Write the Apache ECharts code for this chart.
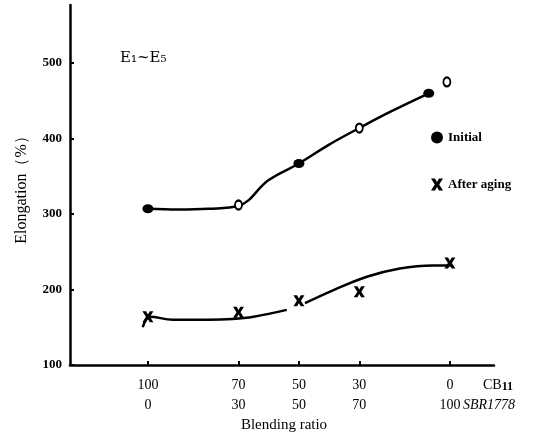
<!DOCTYPE html>
<html>
<head>
<meta charset="utf-8">
<script src="https://cdn.jsdelivr.net/npm/echarts@6/dist/echarts.min.js"></script>
<style>
  html, body { margin: 0; padding: 0; background: #fff; }
  #myChart { width: 553px; height: 437px; }
</style>
</head>
<body>
<div id="myChart"></div>
<script>
// tick values (CB11 content; SBR1778 = 100 - CB11)
const cbTicks = [100, 70, 50, 30, 0];
const yTicks = [100, 200, 300, 400, 500];

// measured points [CB11 %, elongation %]
const initialFilled = [[100, 307], [50, 367], [7, 460]];
const initialOpen = [[70, 312], [30, 414], [1, 475]];
const afterAging = [[100, 164], [70, 170], [50, 185], [30, 197], [0, 235]];

// hand-drawn fitted curves
const initialCurve = [[100, 307], [90, 306], [80, 307], [70, 311], [60, 345],
  [50, 367], [40, 392], [30, 414], [20, 435], [7, 460]];
const agingCurveA = [[101.7, 150], [99.3, 164], [91.7, 160], [80, 160], [72, 161], [65, 164], [54, 173]];
const agingCurveB = [[48, 182], [38.7, 199], [27.5, 217], [16.6, 228], [5.6, 232], [-0.7, 232]];

const serif = "Liberation Serif";
const xMark = "path://M0,0 L4,0 L6,3.5 L8,0 L12,0 L8.2,6 L12,12 L8,12 L6,8.5 L4,12 L0,12 L3.8,6 Z";

let myChart = echarts.init(document.getElementById("myChart"));

const curveStyle = { color: "#000", width: 2.5 };

let option = {
  animation: false,
  backgroundColor: "#fff",
  grid: { left: 70, right: 59, top: 5, bottom: 72 },
  legend: {
    data: ["Initial", "After aging"],
    orient: "vertical",
    left: 426,
    top: 126,
    itemGap: 34,
    itemWidth: 12,
    itemHeight: 12,
    textStyle: { fontFamily: serif, fontSize: 13, fontWeight: "bold", color: "#000" },
  },
  xAxis: {
    type: "value",
    inverse: true,
    min: -14.6,
    max: 125.8,
    splitLine: { show: false },
    axisLine: { onZero: false, lineStyle: { color: "#000", width: 2.5 } },
    axisTick: { inside: true, length: 4, customValues: cbTicks, lineStyle: { color: "#000", width: 2 } },
    axisLabel: {
      customValues: cbTicks,
      margin: 10,
      lineHeight: 20,
      fontFamily: serif,
      fontSize: 14,
      color: "#000",
      formatter: (v) => v + "\n" + (100 - v),
    },
  },
  yAxis: {
    type: "value",
    min: 100,
    max: 577,
    interval: 100,
    splitLine: { show: false },
    axisLine: { onZero: false, lineStyle: { color: "#000", width: 2.5 } },
    axisTick: { inside: true, length: 4, customValues: yTicks, lineStyle: { color: "#000", width: 2 } },
    axisLabel: {
      customValues: yTicks,
      margin: 8,
      fontFamily: serif,
      fontSize: 13,
      fontWeight: "bold",
      color: "#000",
    },
  },
  graphic: [
    {
      type: "text",
      left: 120,
      top: 51,
      style: { text: "E₁~E₅", font: "15px 'DejaVu Serif'", fill: "#000" },
    },
    {
      type: "text",
      x: 22,
      y: 186,
      rotation: Math.PI / 2,
      style: {
        text: "Elongation（%）",
        font: "16px 'Liberation Serif'",
        fill: "#000",
        align: "center",
        verticalAlign: "middle",
      },
    },
    {
      type: "text",
      x: 284,
      y: 425,
      style: {
        text: "Blending ratio",
        font: "15px 'Liberation Serif'",
        fill: "#000",
        align: "center",
        verticalAlign: "middle",
      },
    },
    {
      type: "text",
      x: 483,
      y: 385,
      style: {
        text: "{a|CB}{b|11}",
        verticalAlign: "middle",
        rich: {
          a: { fontFamily: serif, fontSize: 14, fill: "#000" },
          b: { fontFamily: serif, fontSize: 12, fontWeight: "bold", fill: "#000", padding: [4, 0, 0, 0] },
        },
      },
    },
    {
      type: "text",
      x: 463,
      y: 405,
      style: {
        text: "SBR1778",
        font: "italic 14px 'Liberation Serif'",
        fill: "#000",
        verticalAlign: "middle",
      },
    },
  ],
  series: [
    {
      type: "line",
      data: initialCurve,
      smooth: 0.4,
      showSymbol: false,
      lineStyle: curveStyle,
      z: 1,
    },
    {
      type: "line",
      data: agingCurveA,
      smooth: 0.4,
      showSymbol: false,
      lineStyle: curveStyle,
      z: 1,
    },
    {
      type: "line",
      data: agingCurveB,
      smooth: 0.4,
      showSymbol: false,
      lineStyle: curveStyle,
      z: 1,
    },
    {
      name: "Initial",
      type: "scatter",
      data: initialFilled,
      symbol: "circle",
      symbolSize: [11, 9],
      itemStyle: { color: "#000", opacity: 1 },
      z: 3,
    },
    {
      type: "scatter",
      data: initialOpen,
      symbol: "emptyCircle",
      symbolSize: [7, 9],
      itemStyle: { color: "#000", borderWidth: 2.5, opacity: 1 },
      z: 3,
    },
    {
      name: "After aging",
      type: "scatter",
      data: afterAging,
      symbol: xMark,
      symbolSize: 11,
      itemStyle: { color: "#000", opacity: 1 },
      z: 3,
    },
  ],
};

myChart.setOption(option);
</script>
</body>
</html>
